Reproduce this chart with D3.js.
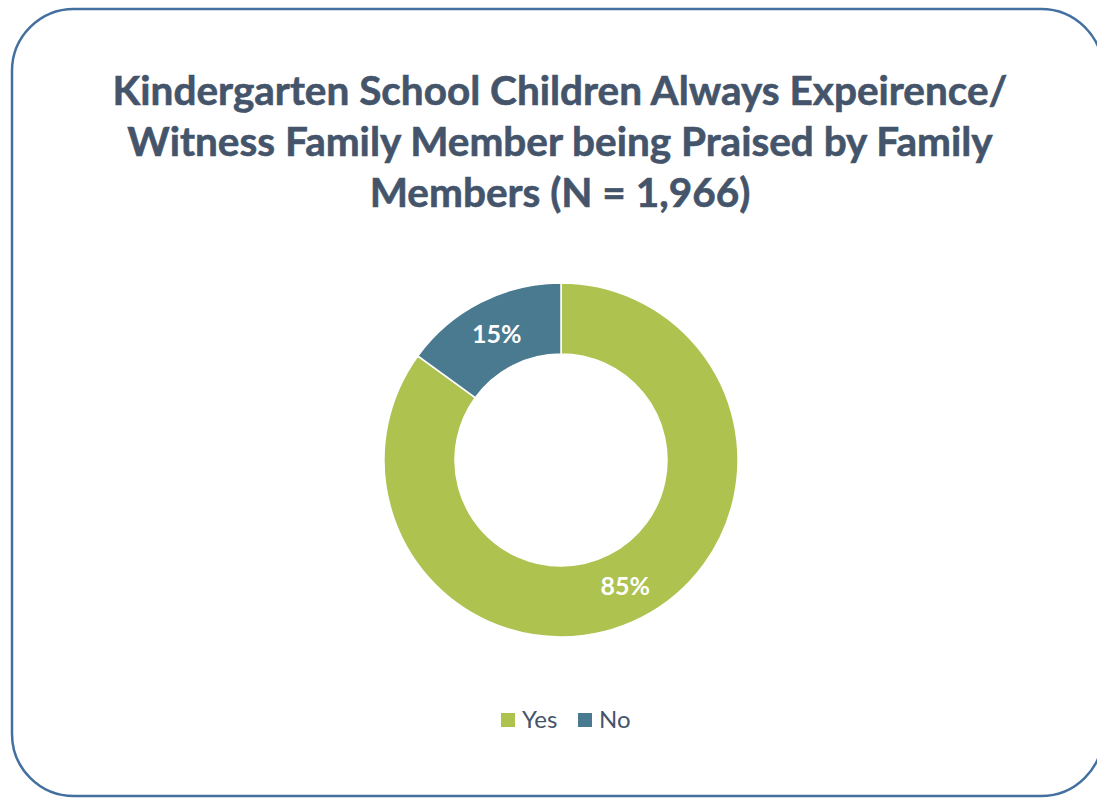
<!DOCTYPE html>
<html>
<head>
<meta charset="utf-8">
<script src="https://cdn.jsdelivr.net/npm/d3@7"></script>
<style>
  html, body { margin: 0; padding: 0; background: #ffffff; }
  svg { display: block; }
</style>
</head>
<body>
<script>
// Survey responses
const categories = ["Yes", "No"];
const values = [85, 15];
const colors = ["#adc24f", "#4a7a90"];
const titleLines = [
  "Kindergarten School Children Always Expeirence/",
  "Witness Family Member being Praised by Family",
  "Members (N = 1,966)"
];

const W = 1097, H = 799;
const svg = d3.select("body").append("svg").attr("width", W).attr("height", H);
const fontFamily = "Lato, 'Open Sans', sans-serif";

// Rounded frame
svg.append("rect")
  .attr("x", 12).attr("y", 9)
  .attr("width", 1091).attr("height", 787)
  .attr("rx", 62).attr("ry", 62)
  .attr("fill", "#ffffff")
  .attr("stroke", "#4470a0")
  .attr("stroke-width", 2.5);

// Title
const textColor = "#44546a";
svg.append("g").selectAll("text")
  .data(titleLines)
  .join("text")
  .attr("x", 560)
  .attr("y", (d, i) => 105 + i * 51)
  .attr("text-anchor", "middle")
  .attr("font-family", fontFamily)
  .attr("font-weight", "bold")
  .attr("font-size", 40.5)
  .attr("stroke", textColor)
  .attr("stroke-width", 0.6)
  .attr("fill", textColor)
  .text(d => d);

// Donut
const cx = 561, cy = 460, rOuter = 177, rInner = 106;
const pie = d3.pie().sort(null).value(d => d.value);
const arcs = pie(categories.map((c, i) => ({ cat: c, value: values[i] })));
const arc = d3.arc().innerRadius(rInner).outerRadius(rOuter);
const color = d3.scaleOrdinal().domain(categories).range(colors);

const g = svg.append("g").attr("transform", `translate(${cx},${cy})`);
g.selectAll("path")
  .data(arcs)
  .join("path")
  .attr("d", arc)
  .attr("fill", d => color(d.data.cat))
  .attr("stroke", "#ffffff")
  .attr("stroke-width", 1.5);

g.selectAll("text")
  .data(arcs)
  .join("text")
  .attr("transform", d => `translate(${arc.centroid(d)})`)
  .attr("text-anchor", "middle")
  .attr("dy", "0.35em")
  .attr("font-family", fontFamily)
  .attr("font-weight", "bold")
  .attr("font-size", 25)
  .attr("fill", "#ffffff")
  .text(d => d.data.value + "%");

// Legend
const legend = svg.append("g").attr("transform", "translate(501,713)");
const legendX = d3.scaleOrdinal().domain(categories).range([0, 77]);
const item = legend.selectAll("g")
  .data(categories)
  .join("g")
  .attr("transform", d => `translate(${legendX(d)},0)`);
item.append("rect")
  .attr("width", 14).attr("height", 14)
  .attr("fill", d => color(d));
item.append("text")
  .attr("x", 21).attr("y", 15)
  .attr("font-family", fontFamily)
  .attr("font-size", 24)
  .attr("fill", textColor)
  .text(d => d);
</script>
</body>
</html>
